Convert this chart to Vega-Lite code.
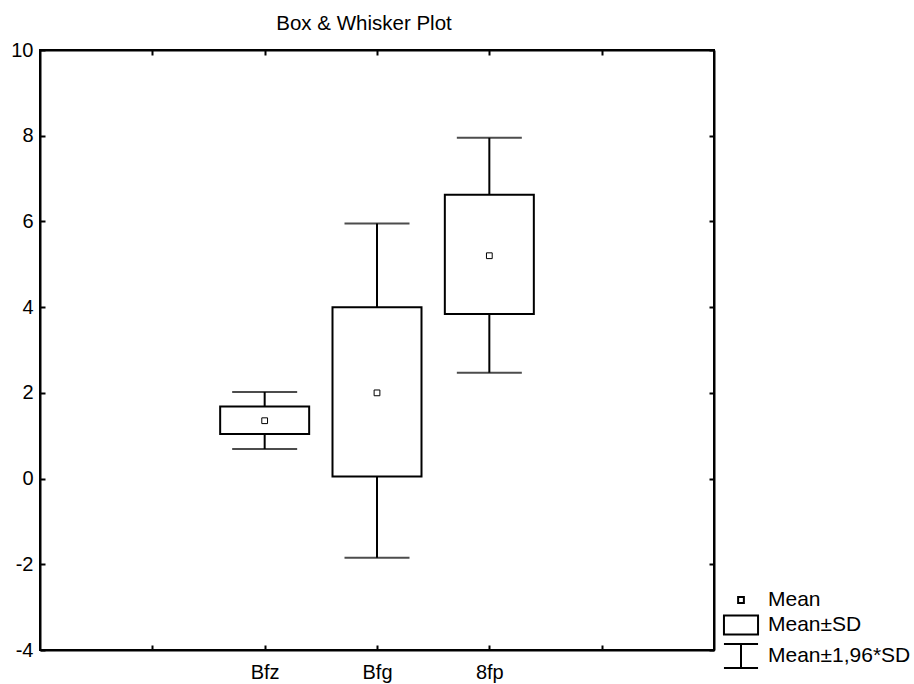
{
  "$schema": "https://vega.github.io/schema/vega-lite/v6.json",
  "autosize": {"type": "none"},
  "width": 674,
  "height": 600,
  "padding": {"left": 40, "top": 50, "right": 200, "bottom": 34},
  "background": "white",
  "title": {"text": "Box & Whisker Plot", "font": "Liberation Sans", "fontSize": 20.5, "fontWeight": "normal", "color": "black", "anchor": "middle", "dx": -13, "offset": 6},
  "config": {
    "view": {"stroke": "black", "strokeWidth": 2},
    "axis": {"labelFont": "Liberation Sans", "labelColor": "black", "domainColor": "black", "domainWidth": 2, "tickColor": "black", "tickWidth": 2, "grid": false, "title": null}
  },
  "data": {"values": [
    {"var": "Bfz", "mean": 1.35, "sdLo": 1.04, "sdHi": 1.68, "ciLo": 0.69, "ciHi": 2.02},
    {"var": "Bfg", "mean": 2.0, "sdLo": 0.05, "sdHi": 4.0, "ciLo": -1.85, "ciHi": 5.95},
    {"var": "8fp", "mean": 5.2, "sdLo": 3.84, "sdHi": 6.62, "ciLo": 2.47, "ciHi": 7.95}
  ]},
  "resolve": {"axis": {"x": "independent", "y": "independent"}},
  "layer": [
    {"mark": {"type": "rule", "color": "black", "strokeWidth": 2},
      "encoding": {
        "x": {"field": "var", "type": "nominal", "scale": {"type": "point", "domain": ["e1", "Bfz", "Bfg", "8fp", "e2"], "padding": 1},
          "axis": {"labelAngle": 0, "labelFontSize": 20, "labelExpr": "indexof(['Bfz','Bfg','8fp'], datum.value) >= 0 ? datum.value : ''", "tickSize": -5, "labelPadding": 17}},
        "y": {"field": "ciLo", "type": "quantitative", "scale": {"domain": [-4, 10], "nice": false, "zero": false},
          "axis": {"values": [-4, -2, 0, 2, 4, 6, 8, 10], "labelFontSize": 20, "labelExpr": "toString(datum.value)", "tickSize": -5, "labelPadding": 12}},
        "y2": {"field": "ciHi"}}},
    {"mark": {"type": "tick", "color": "black", "thickness": 2, "size": 65},
      "encoding": {
        "x": {"field": "var", "type": "nominal", "axis": {"orient": "top", "labels": false, "tickSize": -5}},
        "y": {"field": "ciLo", "type": "quantitative", "axis": {"orient": "right", "values": [-4, -2, 0, 2, 4, 6, 8, 10], "labels": false, "tickSize": -5}}}},
    {"mark": {"type": "tick", "color": "black", "thickness": 2, "size": 65},
      "encoding": {"x": {"field": "var", "type": "nominal", "axis": null}, "y": {"field": "ciHi", "type": "quantitative", "axis": null}}},
    {"mark": {"type": "bar", "fill": "white", "stroke": "black", "strokeWidth": 2, "size": 89},
      "encoding": {"x": {"field": "var", "type": "nominal", "axis": null}, "y": {"field": "sdLo", "type": "quantitative", "axis": null}, "y2": {"field": "sdHi"}}},
    {"mark": {"type": "point", "filled": false, "stroke": "black", "strokeWidth": 1, "size": 576, "opacity": 1},
      "encoding": {"x": {"field": "var", "type": "nominal", "axis": null}, "y": {"field": "mean", "type": "quantitative", "axis": null},
        "shape": {"datum": "Mean", "type": "nominal",
          "scale": {"domain": ["Mean", "Mean±SD", "Mean±1,96*SD"], "range": ["M-0.24,-0.24H0.24V0.24H-0.24Z", "M-1.42,-0.79H1.42V0.79H-1.42Z", "M-1.42,-1.0H1.42M0,-1.0V1.0M-1.42,1.0H1.42"]},
          "legend": {"title": null, "orient": "none", "legendX": 688, "legendY": 537, "symbolSize": 576, "symbolStrokeColor": "black", "symbolFillColor": "white", "symbolStrokeWidth": 2, "labelFont": "Liberation Sans", "labelFontSize": 21, "labelColor": "black", "labelOffset": 14, "rowPadding": 1, "labelLimit": 300}}}}
  ]
}
